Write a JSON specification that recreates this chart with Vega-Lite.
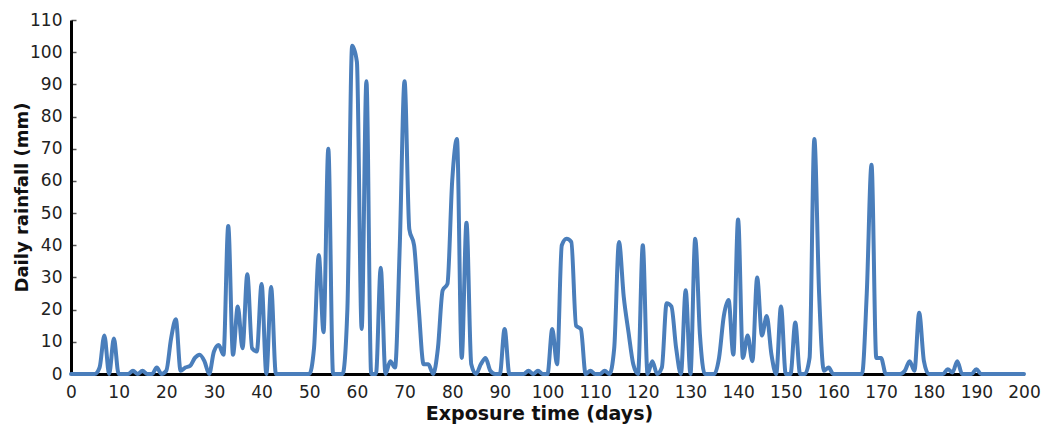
{
  "$schema": "https://vega.github.io/schema/vega-lite/v6.json",
  "width": 953,
  "height": 354,
  "autosize": {"type": "none"},
  "padding": {"left": 71, "top": 20, "right": 21, "bottom": 54},
  "background": "white",
  "config": {
    "view": {"stroke": null},
    "axis": {"labelFont": "DejaVu Sans", "titleFont": "DejaVu Sans", "grid": false}
  },
  "data": {
    "values": [
      {"day":0,"rain":0},{"day":1,"rain":0},{"day":2,"rain":0},{"day":3,"rain":0},{"day":4,"rain":0},
      {"day":5,"rain":0},{"day":6,"rain":2},{"day":7,"rain":12},{"day":8,"rain":0},{"day":9,"rain":11},
      {"day":10,"rain":0},{"day":11,"rain":0},{"day":12,"rain":0},{"day":13,"rain":1},{"day":14,"rain":0},
      {"day":15,"rain":1},{"day":16,"rain":0},{"day":17,"rain":0},{"day":18,"rain":2},{"day":19,"rain":0},
      {"day":20,"rain":1},{"day":21,"rain":11},{"day":22,"rain":17},{"day":23,"rain":1},{"day":24,"rain":2},
      {"day":25,"rain":2.5},{"day":26,"rain":5},{"day":27,"rain":6},{"day":28,"rain":4},{"day":29,"rain":0},
      {"day":30,"rain":7},{"day":31,"rain":9},{"day":32,"rain":6},{"day":33,"rain":46},{"day":34,"rain":6},
      {"day":35,"rain":21},{"day":36,"rain":8},{"day":37,"rain":31},{"day":38,"rain":8},{"day":39,"rain":7},
      {"day":40,"rain":28},{"day":41,"rain":0},{"day":42,"rain":27},{"day":43,"rain":0},{"day":44,"rain":0},
      {"day":45,"rain":0},{"day":46,"rain":0},{"day":47,"rain":0},{"day":48,"rain":0},{"day":49,"rain":0},
      {"day":50,"rain":0},{"day":51,"rain":8},{"day":52,"rain":37},{"day":53,"rain":13},{"day":54,"rain":70},
      {"day":55,"rain":0},{"day":56,"rain":0},{"day":57,"rain":0},{"day":58,"rain":20},{"day":59,"rain":102},
      {"day":60,"rain":97},{"day":61,"rain":14},{"day":62,"rain":91},{"day":63,"rain":0},{"day":64,"rain":0},
      {"day":65,"rain":33},{"day":66,"rain":0},{"day":67,"rain":4},{"day":68,"rain":2},{"day":69,"rain":40},
      {"day":70,"rain":91},{"day":71,"rain":45},{"day":72,"rain":40},{"day":73,"rain":20},{"day":74,"rain":3},
      {"day":75,"rain":3},{"day":76,"rain":0},{"day":77,"rain":8},{"day":78,"rain":26},{"day":79,"rain":28},
      {"day":80,"rain":60},{"day":81,"rain":73},{"day":82,"rain":5},{"day":83,"rain":47},{"day":84,"rain":3},
      {"day":85,"rain":0},{"day":86,"rain":3},{"day":87,"rain":5},{"day":88,"rain":1},{"day":89,"rain":0},
      {"day":90,"rain":0},{"day":91,"rain":14},{"day":92,"rain":0},{"day":93,"rain":0},{"day":94,"rain":0},
      {"day":95,"rain":0},{"day":96,"rain":1},{"day":97,"rain":0},{"day":98,"rain":1},{"day":99,"rain":0},
      {"day":100,"rain":0},{"day":101,"rain":14},{"day":102,"rain":3},{"day":103,"rain":40},{"day":104,"rain":42},
      {"day":105,"rain":41},{"day":106,"rain":15},{"day":107,"rain":14},{"day":108,"rain":0},{"day":109,"rain":1},
      {"day":110,"rain":0},{"day":111,"rain":0},{"day":112,"rain":1},{"day":113,"rain":0},{"day":114,"rain":8},
      {"day":115,"rain":41},{"day":116,"rain":24},{"day":117,"rain":13},{"day":118,"rain":3},{"day":119,"rain":0},
      {"day":120,"rain":40},{"day":121,"rain":0},{"day":122,"rain":4},{"day":123,"rain":0},{"day":124,"rain":2},
      {"day":125,"rain":22},{"day":126,"rain":21},{"day":127,"rain":8},{"day":128,"rain":0},{"day":129,"rain":26},
      {"day":130,"rain":0},{"day":131,"rain":42},{"day":132,"rain":12},{"day":133,"rain":0},{"day":134,"rain":0},
      {"day":135,"rain":0},{"day":136,"rain":5},{"day":137,"rain":18},{"day":138,"rain":23},{"day":139,"rain":6},
      {"day":140,"rain":48},{"day":141,"rain":5},{"day":142,"rain":12},{"day":143,"rain":4},{"day":144,"rain":30},
      {"day":145,"rain":12},{"day":146,"rain":18},{"day":147,"rain":6},{"day":148,"rain":0},{"day":149,"rain":21},
      {"day":150,"rain":0},{"day":151,"rain":0},{"day":152,"rain":16},{"day":153,"rain":0},{"day":154,"rain":0},
      {"day":155,"rain":5},{"day":156,"rain":73},{"day":157,"rain":25},{"day":158,"rain":1},{"day":159,"rain":2},
      {"day":160,"rain":0},{"day":161,"rain":0},{"day":162,"rain":0},{"day":163,"rain":0},{"day":164,"rain":0},
      {"day":165,"rain":0},{"day":166,"rain":0},{"day":167,"rain":25},{"day":168,"rain":65},{"day":169,"rain":5},
      {"day":170,"rain":5},{"day":171,"rain":0},{"day":172,"rain":0},{"day":173,"rain":0},{"day":174,"rain":0},
      {"day":175,"rain":1},{"day":176,"rain":4},{"day":177,"rain":1},{"day":178,"rain":19},{"day":179,"rain":4},
      {"day":180,"rain":0},{"day":181,"rain":0},{"day":182,"rain":0},{"day":183,"rain":0},{"day":184,"rain":1.5},
      {"day":185,"rain":0.5},{"day":186,"rain":4},{"day":187,"rain":0},{"day":188,"rain":0},{"day":189,"rain":0},
      {"day":190,"rain":1.5},{"day":191,"rain":0},{"day":192,"rain":0},{"day":193,"rain":0},{"day":194,"rain":0},
      {"day":195,"rain":0},{"day":196,"rain":0},{"day":197,"rain":0},{"day":198,"rain":0},{"day":199,"rain":0},
      {"day":200,"rain":0}
    ]
  },
  "mark": {"type": "line", "interpolate": "monotone", "color": "#4A7EBB", "strokeWidth": 4, "strokeJoin": "round", "strokeCap": "round"},
  "encoding": {
    "x": {
      "field": "day", "type": "quantitative",
      "scale": {"domain": [0, 200], "nice": false, "zero": false},
      "axis": {
        "title": "Exposure time (days)",
        "values": [0,10,20,30,40,50,60,70,80,90,100,110,120,130,140,150,160,170,180,190,200],
        "ticks": false,
        "labelPadding": 10,
        "labelFontSize": 17,
        "labelColor": "#222222",
        "labelFlush": false,
        "domainColor": "#000000",
        "domainWidth": 3,
        "titleFontSize": 19,
        "titleFontWeight": "bold",
        "titleColor": "#111111",
        "titleX": 468,
        "titleY": 39,
        "titleBaseline": "middle",
        "titleAnchor": "middle"
      }
    },
    "y": {
      "field": "rain", "type": "quantitative",
      "scale": {"domain": [0, 110], "nice": false},
      "axis": {
        "title": "Daily rainfall (mm)",
        "values": [0,10,20,30,40,50,60,70,80,90,100,110],
        "tickSize": -5,
        "tickColor": "#555555",
        "tickWidth": 1.5,
        "labelPadding": 14,
        "labelFontSize": 17,
        "labelColor": "#222222",
        "labelFlush": false,
        "domainColor": "#000000",
        "domainWidth": 3,
        "titleFontSize": 18,
        "titleFontWeight": "bold",
        "titleColor": "#111111",
        "titleX": -49,
        "titleBaseline": "middle",
        "titleAnchor": "middle"
      }
    }
  }
}
